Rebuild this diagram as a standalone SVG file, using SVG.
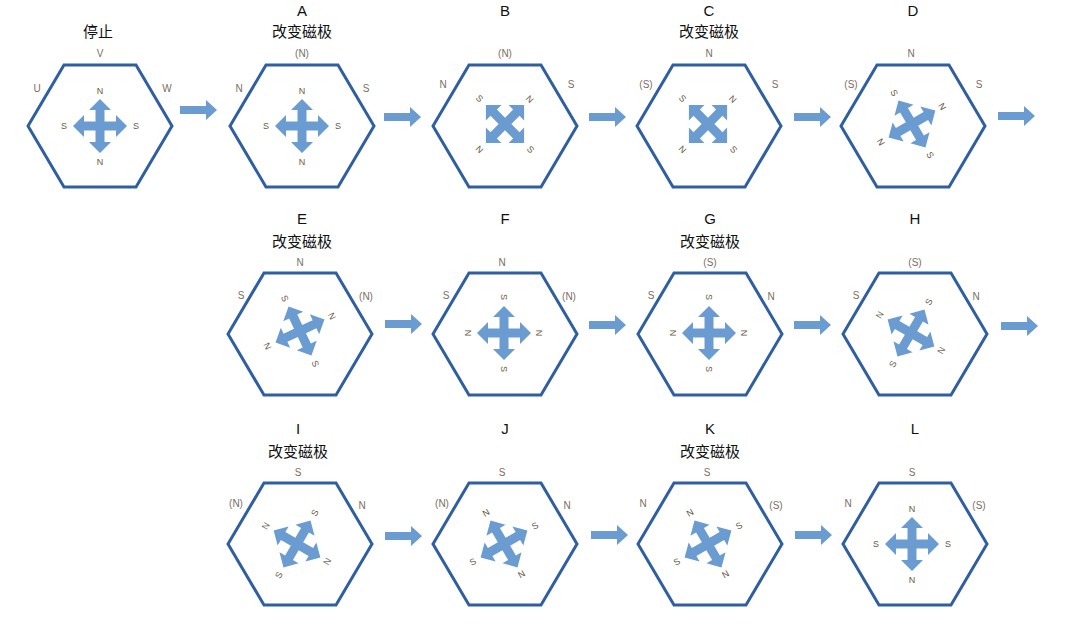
<svg xmlns="http://www.w3.org/2000/svg" xmlns:xlink="http://www.w3.org/1999/xlink" width="1080" height="633" viewBox="0 0 1080 633">
<style>
.hex{fill:#fff;stroke:#2f5fa2;stroke-width:3;stroke-linejoin:miter}
.cr{fill:#6a9bd1}
.ar{fill:#6a9bd1}
.il{font-family:"Liberation Sans",Arial,sans-serif;font-size:9px;fill:#6b5a45;text-anchor:middle;dominant-baseline:central}
.ol{font-family:"Liberation Sans",Arial,sans-serif;font-size:10px;fill:#7a6e62;text-anchor:middle;dominant-baseline:central}
.t{font-family:"Liberation Sans","Noto Sans CJK SC",sans-serif;font-size:15px;fill:#111;text-anchor:middle}
</style>
<defs>
<polygon id="hx" class="hex" points="-72,0 -36,-61 36,-61 72,0 36,61 -36,61"/>
<polygon id="cross" class="cr" points="0,-27 11,-16 4.5,-16 4.5,-4.5 16,-4.5 16,-11 27,0 16,11 16,4.5 4.5,4.5 4.5,16 11,16 0,27 -11,16 -4.5,16 -4.5,4.5 -16,4.5 -16,11 -27,0 -16,-11 -16,-4.5 -4.5,-4.5 -4.5,-16 -11,-16"/>
<polygon id="arr" class="ar" points="0,-4 26,-4 26,-10 37,0 26,10 26,4 0,4"/>
</defs>
<g id="n-stop">
<text class="t" x="98" y="37" font-size="16">停止</text>
<use href="#hx" x="100" y="126"/>
<text class="ol" x="100" y="53">V</text><text class="ol" x="37" y="88">U</text><text class="ol" x="167" y="88">W</text>
<g transform="translate(100,126)"><use href="#cross"/><text class="il" y="-35">N</text><text class="il" x="36">S</text><text class="il" y="36">N</text><text class="il" x="-36">S</text></g>
</g>
<g id="n-A">
<text class="t" x="302" y="16">A</text><text class="t" x="302" y="37" font-size="16">改变磁极</text>
<use href="#hx" x="302" y="126"/>
<text class="ol" x="302" y="53">(N)</text><text class="ol" x="239" y="88">N</text><text class="ol" x="366" y="88">S</text>
<g transform="translate(302,126)"><use href="#cross"/><text class="il" y="-35">N</text><text class="il" x="36">S</text><text class="il" y="36">N</text><text class="il" x="-36">S</text></g>
</g>
<g id="n-B">
<text class="t" x="505" y="16">B</text>
<use href="#hx" x="505" y="126"/>
<text class="ol" x="505" y="53">(N)</text><text class="ol" x="443" y="84">N</text><text class="ol" x="571" y="84">S</text>
<g transform="translate(505,124) rotate(45)"><use href="#cross"/><text class="il" y="-35">N</text><text class="il" x="36">S</text><text class="il" y="36">N</text><text class="il" x="-36">S</text></g>
</g>
<g id="n-C">
<text class="t" x="709" y="16">C</text><text class="t" x="709" y="37" font-size="16">改变磁极</text>
<use href="#hx" x="709" y="126"/>
<text class="ol" x="709" y="53">N</text><text class="ol" x="646" y="84">(S)</text><text class="ol" x="775" y="84">S</text>
<g transform="translate(708,124) rotate(45)"><use href="#cross"/><text class="il" y="-35">N</text><text class="il" x="36">S</text><text class="il" y="36">N</text><text class="il" x="-36">S</text></g>
</g>
<g id="n-D">
<text class="t" x="913" y="16">D</text>
<use href="#hx" x="913" y="126"/>
<text class="ol" x="911" y="53">N</text><text class="ol" x="851" y="84">(S)</text><text class="ol" x="979" y="84">S</text>
<g transform="translate(912,124) rotate(60)"><use href="#cross"/><text class="il" y="-35">N</text><text class="il" x="36">S</text><text class="il" y="36">N</text><text class="il" x="-36">S</text></g>
</g>
<g id="n-E">
<text class="t" x="302" y="224">E</text><text class="t" x="302" y="247" font-size="16">改变磁极</text>
<use href="#hx" x="300" y="334"/>
<text class="ol" x="300" y="262">N</text><text class="ol" x="241" y="295">S</text><text class="ol" x="366" y="296">(N)</text>
<g transform="translate(300,331) rotate(65)"><use href="#cross"/><text class="il" y="-35">N</text><text class="il" x="36">S</text><text class="il" y="36">N</text><text class="il" x="-36">S</text></g>
</g>
<g id="n-F">
<text class="t" x="505" y="224">F</text>
<use href="#hx" x="505" y="334"/>
<text class="ol" x="502" y="262">N</text><text class="ol" x="446" y="295">S</text><text class="ol" x="569" y="296">(N)</text>
<g transform="translate(504,333) rotate(90)"><use href="#cross"/><text class="il" y="-35">N</text><text class="il" x="36">S</text><text class="il" y="36">N</text><text class="il" x="-36">S</text></g>
</g>
<g id="n-G">
<text class="t" x="710" y="224">G</text><text class="t" x="710" y="247" font-size="16">改变磁极</text>
<use href="#hx" x="710" y="334"/>
<text class="ol" x="710" y="262">(S)</text><text class="ol" x="651" y="295">S</text><text class="ol" x="771" y="296">N</text>
<g transform="translate(709,333) rotate(90)"><use href="#cross"/><text class="il" y="-35">N</text><text class="il" x="36">S</text><text class="il" y="36">N</text><text class="il" x="-36">S</text></g>
</g>
<g id="n-H">
<text class="t" x="915" y="224">H</text>
<use href="#hx" x="915" y="334"/>
<text class="ol" x="915" y="262">(S)</text><text class="ol" x="856" y="295">S</text><text class="ol" x="976" y="296">N</text>
<g transform="translate(911,333) rotate(120)"><use href="#cross"/><text class="il" y="-35" transform="rotate(180 0 -35)">N</text><text class="il" x="36" transform="rotate(180 36 0)">S</text><text class="il" y="36" transform="rotate(180 0 36)">N</text><text class="il" x="-36" transform="rotate(180 -36 0)">S</text></g>
</g>
<g id="n-I">
<text class="t" x="298" y="434">I</text><text class="t" x="298" y="457" font-size="16">改变磁极</text>
<use href="#hx" x="300" y="544"/>
<text class="ol" x="298" y="472">S</text><text class="ol" x="236" y="503">(N)</text><text class="ol" x="362" y="505">N</text>
<g transform="translate(297,544) rotate(120)"><use href="#cross"/><text class="il" y="-35" transform="rotate(180 0 -35)">N</text><text class="il" x="36" transform="rotate(180 36 0)">S</text><text class="il" y="36" transform="rotate(180 0 36)">N</text><text class="il" x="-36" transform="rotate(180 -36 0)">S</text></g>
</g>
<g id="n-J">
<text class="t" x="505" y="434">J</text>
<use href="#hx" x="505" y="544"/>
<text class="ol" x="502" y="472">S</text><text class="ol" x="442" y="503">(N)</text><text class="ol" x="567" y="505">N</text>
<g transform="translate(504,544) rotate(150)"><use href="#cross"/><text class="il" y="-35" transform="rotate(180 0 -35)">N</text><text class="il" x="36" transform="rotate(180 36 0)">S</text><text class="il" y="36" transform="rotate(180 0 36)">N</text><text class="il" x="-36" transform="rotate(180 -36 0)">S</text></g>
</g>
<g id="n-K">
<text class="t" x="710" y="434">K</text><text class="t" x="710" y="457" font-size="16">改变磁极</text>
<use href="#hx" x="710" y="544"/>
<text class="ol" x="707" y="472">S</text><text class="ol" x="643" y="503">N</text><text class="ol" x="776" y="505">(S)</text>
<g transform="translate(708,544) rotate(150)"><use href="#cross"/><text class="il" y="-35" transform="rotate(180 0 -35)">N</text><text class="il" x="36" transform="rotate(180 36 0)">S</text><text class="il" y="36" transform="rotate(180 0 36)">N</text><text class="il" x="-36" transform="rotate(180 -36 0)">S</text></g>
</g>
<g id="n-L">
<text class="t" x="915" y="434">L</text>
<use href="#hx" x="915" y="544"/>
<text class="ol" x="912" y="472">S</text><text class="ol" x="848" y="503">N</text><text class="ol" x="979" y="505">(S)</text>
<g transform="translate(912,544)"><use href="#cross"/><text class="il" y="-35">N</text><text class="il" x="36">S</text><text class="il" y="36">N</text><text class="il" x="-36">S</text></g>
</g>
<g id="connectors">
<use href="#arr" x="180" y="110"/>
<use href="#arr" x="384" y="117"/>
<use href="#arr" x="589" y="117"/>
<use href="#arr" x="794" y="117"/>
<use href="#arr" x="998" y="116"/>
<use href="#arr" x="385" y="324"/>
<use href="#arr" x="589" y="325"/>
<use href="#arr" x="794" y="325"/>
<use href="#arr" x="1001" y="326"/>
<use href="#arr" x="385" y="536"/>
<use href="#arr" x="591" y="535"/>
<use href="#arr" x="795" y="535"/>
</g>
</svg>
